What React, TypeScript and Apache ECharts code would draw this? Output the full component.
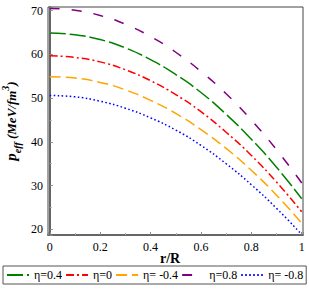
import React, { useEffect, useRef } from "react";
import * as echarts from "echarts";

const rValues = [0, 0.1, 0.2, 0.3, 0.4, 0.5, 0.6, 0.7, 0.8, 0.9, 1.0];
const eta04 = [64.9, 64.5, 63.4, 61.5, 58.8, 55.4, 51.3, 46.3, 40.6, 34.2, 27.0];
const eta0 = [59.7, 59.3, 58.3, 56.5, 54.0, 50.8, 46.9, 42.2, 36.9, 30.8, 24.0];
const etaM04 = [54.9, 54.6, 53.6, 51.9, 49.5, 46.5, 42.8, 38.5, 33.5, 27.8, 21.4];
const eta08 = [70.5, 70.1, 68.9, 66.9, 64.1, 60.5, 56.1, 51.0, 45.0, 38.2, 30.6];
const etaM08 = [50.6, 50.3, 49.3, 47.7, 45.5, 42.7, 39.2, 35.0, 30.2, 24.8, 18.8];

const seriesNames = ["η=0.4", "η=0", "η= -0.4", "η=0.8", "η= -0.8"];
const seriesData = [eta04, eta0, etaM04, eta08, etaM08];
const colors = ["#008000", "#ff0000", "#ffa500", "#800080", "#0000ff"];
const dashes: any[] = [[16, 4], [8, 3, 2, 3], [11, 5], [10, 12], [1.6, 2.4]];

const FONT = "Liberation Serif";

export default function App() {
  const ref = useRef<HTMLDivElement>(null);
  useEffect(() => {
    if (!ref.current) return;
    const chart = echarts.init(ref.current, null, { renderer: "svg" });
    chart.setOption({
      animation: false,
      grid: {
        left: 48,
        right: 6,
        top: 7,
        bottom: 58,
        show: true,
        borderColor: "#444",
        borderWidth: 1,
      },
      xAxis: {
        type: "value",
        min: -0.007,
        max: 1.005,
        axisLine: { show: true, lineStyle: { color: "#666", width: 2 } },
        axisTick: { show: true, inside: true, length: 3, lineStyle: { color: "#888" } },
        minorTick: { show: true, splitNumber: 2, length: 2, lineStyle: { color: "#aaa" } },
        splitLine: { show: false },
        axisLabel: {
          showMinLabel: false,
          showMaxLabel: false,
          color: "#000",
          fontFamily: FONT,
          fontSize: 12,
          margin: 6,
        },
      },
      yAxis: {
        type: "value",
        min: 18.7,
        max: 70.85,
        axisLine: { show: true, lineStyle: { color: "#666", width: 2 } },
        axisTick: { show: true, inside: true, length: 3, lineStyle: { color: "#888" } },
        minorTick: { show: true, splitNumber: 2, length: 2, lineStyle: { color: "#aaa" } },
        splitLine: { show: false },
        axisLabel: {
          showMinLabel: false,
          showMaxLabel: false,
          color: "#000",
          fontFamily: FONT,
          fontSize: 12,
          margin: 5,
        },
      },
      legend: {
        left: 3,
        top: 266,
        data: seriesNames,
        itemWidth: 22,
        itemHeight: 8,
        itemGap: 3,
        padding: [3, 3, 3, 3],
        borderColor: "#555",
        borderWidth: 1,
        borderRadius: 0,
        itemStyle: { color: "transparent", borderWidth: 0, opacity: 0 },
        textStyle: { color: "#000", fontFamily: FONT, fontSize: 12 },
      },
      graphic: [
        {
          type: "text",
          left: 160,
          top: 251,
          style: {
            text: "r/R",
            fontFamily: FONT,
            fontWeight: "bold",
            fontSize: 14,
            fill: "#000",
          },
        },
        {
          type: "text",
          x: 22,
          y: 121,
          rotation: Math.PI / 2,
          style: {
            text: "{p|p}{sub|eff}{m| (MeV/fm}{sup|3}{m|)}",
            fontFamily: FONT,
            align: "center",
            verticalAlign: "bottom",
            fill: "#000",
            rich: {
              p: { fontFamily: FONT, fontSize: 15, fontWeight: "bold", fontStyle: "italic", lineHeight: 22, verticalAlign: "middle" },
              sub: { fontFamily: FONT, fontSize: 10, fontWeight: "bold", fontStyle: "italic", lineHeight: 22, verticalAlign: "bottom" },
              m: { fontFamily: FONT, fontSize: 13, fontWeight: "bold", fontStyle: "italic", lineHeight: 22, verticalAlign: "middle" },
              sup: { fontFamily: FONT, fontSize: 10, fontWeight: "bold", fontStyle: "italic", lineHeight: 22, verticalAlign: "top" },
            },
          },
        },
      ],
      series: seriesNames.map((name, i) => ({
        name,
        type: "line",
        symbol: "none",
        smooth: true,
        data: rValues.map((r, j) => [r, seriesData[i][j]]),
        lineStyle: { color: colors[i], width: 1.5, type: dashes[i] },
        itemStyle: { color: colors[i] },
      })),
    });
    return () => chart.dispose();
  }, []);
  return <div ref={ref} style={{ width: 309, height: 293, position: "absolute", left: 0, top: 0 }} />;
}
